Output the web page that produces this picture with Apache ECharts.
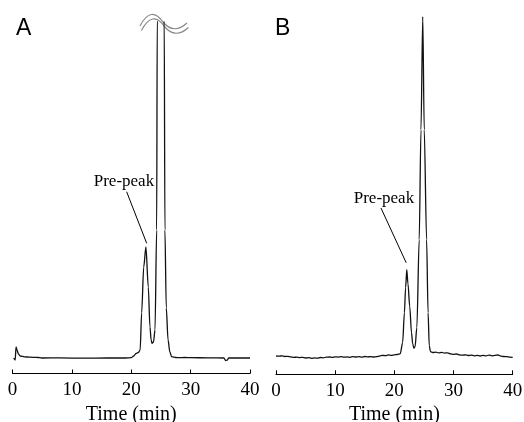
<!DOCTYPE html>
<html>
<head>
<meta charset="utf-8">
<script src="https://cdn.jsdelivr.net/npm/echarts@6/dist/echarts.min.js"></script>
<style>
    html, body { margin: 0; padding: 0; background: #fff; }
    #chart { width: 524px; height: 422px; }
</style>
</head>
<body>
<div id="chart"></div>
<script>
// tick labels for both time axes
const timeTicks = [0, 10, 20, 30, 40];

// trace A: time (min) / signal above baseline
const timeA = [0.2, 0.45, 0.6, 0.75, 1.0, 1.3, 2, 3, 4, 4.6, 5, 8, 12, 16, 19, 20, 20.4, 20.8, 21.2, 21.5,
    21.75, 22.1, 22.47, 22.87, 23.15, 23.35, 23.5, 23.75, 24.0, 24.28, 24.38, 25.0, 25.55, 25.67, 25.9,
    26.2, 26.5, 26.8, 27.5, 28, 29, 30, 33, 35.6, 35.9, 36.2, 36.4, 40];
const signalA = [0, -2, 11, 8, 4, 2, 1.2, 0.8, 0.6, 0.4, 0, 0.1, -0.2, 0, 0, 0.3, 2, 4.5, 5.5, 8,
    45, 91, 111, 71, 31, 18, 14.7, 16, 28, 128, 340, 3000, 340, 128, 50,
    18, 6, 1.3, 0.5, 0.3, 0.5, 0.3, 0.2, 0, -2.5, -2, 0, 0];

// trace B
const timeB = [0, 0.5, 1, 1.5, 2, 2.5, 3, 3.5, 4, 4.5, 5, 5.5, 6, 6.5, 7, 7.5, 8, 8.5, 9, 9.5,
    10, 10.5, 11, 11.5, 12, 12.5, 13, 13.5, 14, 14.5, 15, 15.5, 16, 16.5, 17, 17.5, 18, 18.5, 19, 19.5,
    20, 20.5, 21.0, 21.4, 21.7, 21.9, 22.1, 22.3, 22.6, 22.9, 23.1, 23.3, 23.5, 23.8, 24.2, 24.5, 24.8,
    25.05, 25.45, 25.7, 25.9, 26.1, 26.5, 27, 27.5, 28, 28.5, 29, 29.5, 30, 30.5, 31, 31.5, 32, 32.5,
    33, 33.5, 34, 34.5, 35, 35.5, 36, 36.5, 37, 37.5, 38, 38.5, 39, 39.5, 40];
const signalB = [1.7, 1.5, 1.9, 1.2, 1.4, 0.8, 0.3, 0.6, 0.1, 0.4, -0.3, 0.1, -0.6, -0.2, -0.5, 0.2, -0.1, 0.5, 0.7, 0.3,
    0.9, 0.6, 1.0, 0.5, 0.8, 0.4, 1.1, 0.7, 1.0, 0.6, 1.2, 0.8, 1.1, 0.7, 1.0, 1.6, 2.4, 2.0, 2.8, 2.4,
    2.9, 3.2, 4, 15, 45, 70, 88, 74, 51, 25, 14, 9.4, 11, 30, 118, 228, 341,
    228, 118, 45, 12, 6, 5.2, 5.6, 4.8, 5.3, 4.6, 4.9, 3.8, 3.4, 3.7, 2.8, 2.5, 2.9, 2.2,
    2.6, 1.9, 2.3, 1.7, 2.4, 1.8, 2.6, 1.9, 2.3, 2.7, 1.6, 1.2, 1.0, 0.5, 0.3];

// annotation: label point, arrow start, arrow end
const labelA = [18.77, 176.5];
const arrowA = [[19.22, 166.3], [22.6, 114.7]];
const labelB = [18.24, 158.7];
const arrowB = [[17.74, 149.7], [22.0, 95]];

const serif = 'Liberation Serif';

const pairs = (t, s) => t.map((v, i) => [v, s[i]]);

const xAxisBase = {
    type: 'value',
    min: 0,
    max: 40,
    interval: 10,
    splitLine: { show: false },
    axisLine: { onZero: false, lineStyle: { color: '#000', width: 1 } },
    axisTick: { inside: true, length: 4, customValues: timeTicks, lineStyle: { color: '#000', width: 1 } },
    axisLabel: { color: '#000', fontFamily: serif, fontSize: 19, margin: 7, customValues: timeTicks },
    name: 'Time (min)',
    nameLocation: 'middle',
    nameGap: 25,
    nameTextStyle: { color: '#000', fontFamily: serif, fontSize: 20 }
};

const traceSeries = (idx, t, s, label, arrow) => ({
    type: 'line',
    xAxisIndex: idx,
    yAxisIndex: idx,
    data: pairs(t, s),
    showSymbol: false,
    smooth: 0.3,
    smoothMonotone: 'x',
    lineStyle: { color: '#111', width: 1.3 },
    markPoint: {
        symbol: 'circle',
        symbolSize: 1,
        itemStyle: { color: 'rgba(0,0,0,0)' },
        label: { show: true, position: 'inside', formatter: 'Pre-peak', color: '#000', fontFamily: serif, fontSize: 17 },
        data: [{ coord: label }]
    },
    markLine: {
        silent: true,
        symbol: ['none', 'arrow'],
        symbolSize: [0, 7],
        label: { show: false },
        lineStyle: { color: '#000', width: 1, type: 'solid' },
        data: [[{ coord: arrow[0] }, { coord: arrow[1] }]]
    }
});

const option = {
    backgroundColor: '#fff',
    animation: false,
    title: [
        { text: 'A', left: 11, top: 12, textStyle: { fontFamily: 'Liberation Sans', fontWeight: 'normal', fontSize: 23, color: '#000' } },
        { text: 'B', left: 270, top: 12, textStyle: { fontFamily: 'Liberation Sans', fontWeight: 'normal', fontSize: 23, color: '#000' } }
    ],
    grid: [
        { left: 12.5, top: 22, width: 237.5, height: 351.5, outerBoundsMode: 'none' },
        { left: 276, top: 10, width: 236.7, height: 364.3, outerBoundsMode: 'none' }
    ],
    xAxis: [
        Object.assign({ gridIndex: 0 }, xAxisBase),
        Object.assign({ gridIndex: 1 }, xAxisBase)
    ],
    yAxis: [
        { type: 'value', gridIndex: 0, min: -15.5, max: 336, show: false },
        { type: 'value', gridIndex: 1, min: -16.6, max: 347.7, show: false }
    ],
    series: [
        traceSeries(0, timeA, signalA, labelA, arrowA),
        traceSeries(1, timeB, signalB, labelB, arrowB)
    ]
};

const myChart = echarts.init(document.getElementById('chart'));
myChart.setOption(option);

// break mark (two wavy strokes) over the off-scale main peak of A
const breakPos = myChart.convertToPixel({ gridIndex: 0 }, [25.0, 336]);
const waveStyle = { stroke: '#888', lineWidth: 1.2, fill: null };
const wave = (dx, dy) => [
    { type: 'bezierCurve', x: breakPos[0] + dx, y: breakPos[1] + dy, style: waveStyle,
      shape: { x1: -21, y1: 4, cpx1: -10, cpy1: -17, x2: 2, y2: 0 } },
    { type: 'bezierCurve', x: breakPos[0] + dx, y: breakPos[1] + dy, style: waveStyle,
      shape: { x1: 2, y1: 0, cpx1: 13, cpy1: 13, x2: 26, y2: 1 } }
];
myChart.setOption({
    graphic: wave(0, 0).concat(wave(1.5, 4.5))
});
</script>
</body>
</html>
